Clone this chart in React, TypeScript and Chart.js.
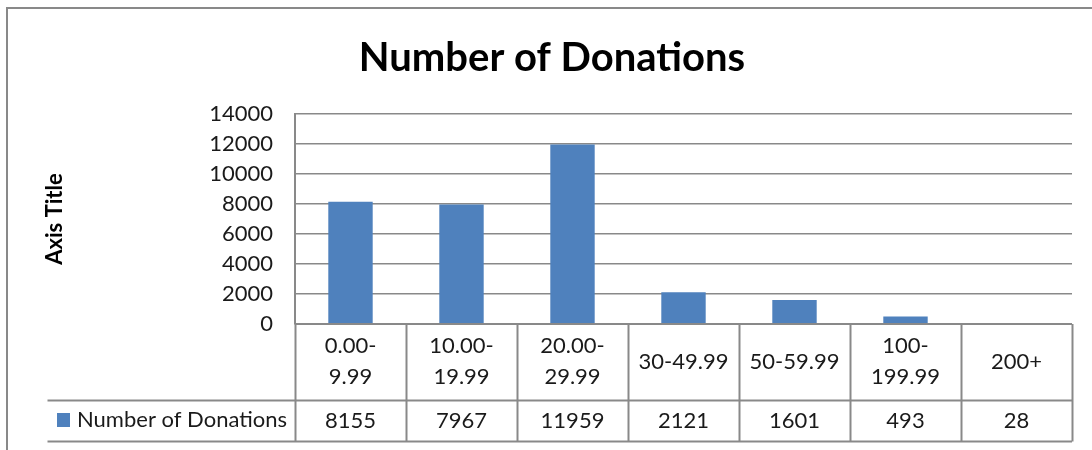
import React, { useEffect, useRef } from "react";
import { Chart, registerables } from "chart.js";

Chart.register(...registerables);

const chartTitle = "Number of Donations";
const axisTitle = "Axis Title";
const seriesName = "Number of Donations";
const categories: (string | string[])[] = [
  ["0.00-", "9.99"],
  ["10.00-", "19.99"],
  ["20.00-", "29.99"],
  "30-49.99",
  "50-59.99",
  ["100-", "199.99"],
  "200+",
];
const donations = [8155, 7967, 11959, 2121, 1601, 493, 28];
const yTicks = [0, 2000, 4000, 6000, 8000, 10000, 12000, 14000];

const FONT = "Lato, 'Open Sans', sans-serif";
const GRAY = "#898989";
const BLUE = "#4F81BD";
const TEXT = "#1a1a1a";

const decor = {
  id: "decor",
  beforeDraw(chart: any) {
    const { ctx, width, height } = chart;
    ctx.save();
    ctx.fillStyle = "#fff";
    ctx.fillRect(0, 0, width, height);
    ctx.strokeStyle = GRAY;
    ctx.lineWidth = 2;
    ctx.beginPath();
    ctx.moveTo(width + 5, 8);
    ctx.lineTo(7, 8);
    ctx.lineTo(7, height + 5);
    ctx.stroke();
    ctx.restore();
  },
  afterDraw(chart: any) {
    const { ctx, chartArea } = chart;
    const x = chart.scales.x;
    const labels: (string | string[])[] = chart.data.labels;
    const values: number[] = chart.data.datasets[0].data;
    const n = labels.length;
    const colW = (chartArea.right - chartArea.left) / n;
    const top = chartArea.bottom;
    const mid = 400.5;
    const bot = 441.5;
    const tableLeft = 47.5;

    ctx.save();
    // Title
    ctx.fillStyle = "#000";
    ctx.font = `bold 40px ${FONT}`;
    ctx.textAlign = "center";
    ctx.textBaseline = "middle";
    ctx.fillText(chartTitle, 552, 58);

    // Axis title
    ctx.save();
    ctx.translate(55, 219);
    ctx.rotate(-Math.PI / 2);
    ctx.font = `bold 22px ${FONT}`;
    ctx.fillText(axisTitle, 0, 0);
    ctx.restore();

    // Table lines
    ctx.strokeStyle = GRAY;
    ctx.lineWidth = 2;
    ctx.beginPath();
    ctx.moveTo(chartArea.left, top);
    ctx.lineTo(chartArea.right, top);
    ctx.moveTo(tableLeft, mid);
    ctx.lineTo(chartArea.right, mid);
    ctx.moveTo(tableLeft, bot);
    ctx.lineTo(chartArea.right, bot);
    for (let i = 0; i <= n; i++) {
      const px = Math.round(chartArea.left + i * colW) + 0.5;
      ctx.moveTo(px, top);
      ctx.lineTo(px, bot);
    }
    ctx.stroke();

    // Category labels and values
    ctx.fillStyle = TEXT;
    ctx.font = `22px ${FONT}`;
    for (let i = 0; i < n; i++) {
      const cx = x.getPixelForValue(i);
      const lab = labels[i];
      if (Array.isArray(lab)) {
        ctx.fillText(lab[0], cx, 346);
        ctx.fillText(lab[1], cx, 377);
      } else {
        ctx.fillText(lab, cx, 362);
      }
      ctx.fillText(String(values[i]), cx, 421);
    }

    // Legend key
    ctx.fillStyle = BLUE;
    ctx.fillRect(57, 413, 13, 14);
    ctx.fillStyle = TEXT;
    ctx.textAlign = "left";
    ctx.fillText(seriesName, 77, 420);
    ctx.restore();
  },
};

export default function App() {
  const ref = useRef<HTMLCanvasElement>(null);
  useEffect(() => {
    if (!ref.current) return;
    const chart = new Chart(ref.current, {
      type: "bar",
      data: {
        labels: categories,
        datasets: [
          {
            label: seriesName,
            data: donations,
            backgroundColor: BLUE,
            categoryPercentage: 1,
            barPercentage: 0.4,
          },
        ],
      },
      options: {
        animation: false,
        responsive: false,
        devicePixelRatio: 1,
        layout: { padding: { left: 0, top: 114, right: 20, bottom: 126 } },
        plugins: { legend: { display: false }, tooltip: { enabled: false } },
        scales: {
          x: { display: false },
          y: {
            min: 0,
            max: 14000,
            afterBuildTicks: (s: any) => {
              s.ticks = yTicks.map((v) => ({ value: v }));
            },
            afterFit: (s: any) => {
              s.width = 295;
            },
            ticks: {
              padding: 22,
              color: TEXT,
              font: { family: FONT, size: 22 },
              callback: (v: any) => String(v),
            },
            grid: { color: GRAY, lineWidth: 1.5, drawTicks: false },
            border: { display: true, color: GRAY, width: 2 },
          },
        },
      },
      plugins: [decor],
    });
    return () => chart.destroy();
  }, []);
  return (
    <div style={{ position: "fixed", left: 0, top: 0, width: 1092, height: 450, background: "#fff" }}>
      <canvas ref={ref} width={1092} height={450} />
    </div>
  );
}
